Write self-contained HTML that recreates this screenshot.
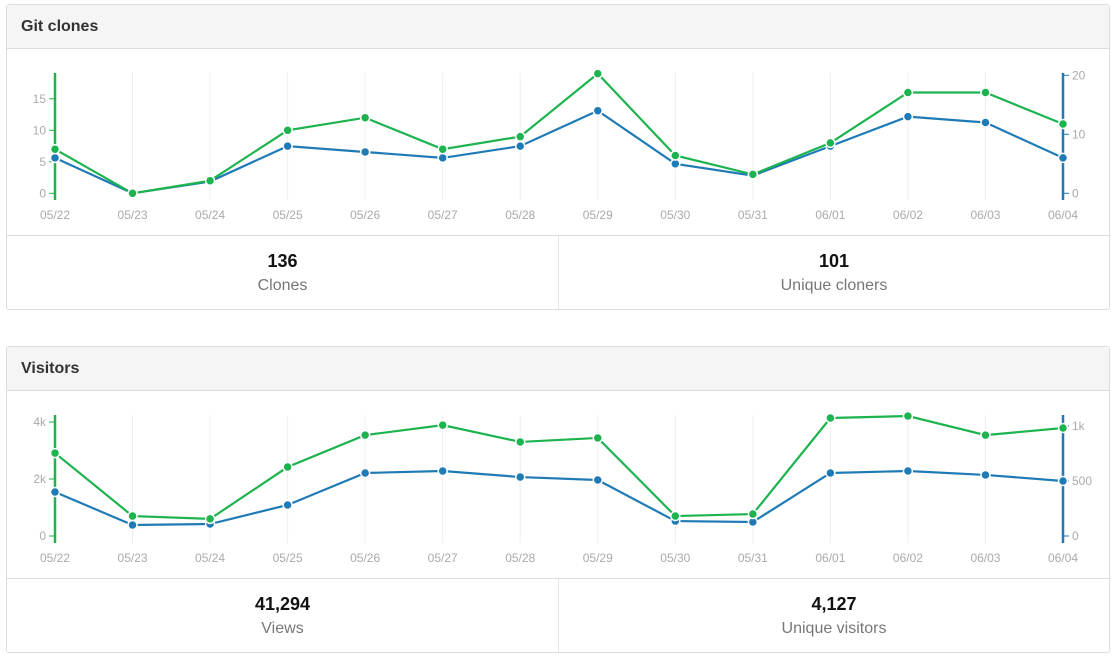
<!DOCTYPE html>
<html><head><meta charset="utf-8">
<style>
body{margin:0;background:#fff;font-family:"Liberation Sans",Arial,sans-serif;width:1117px;height:658px;position:relative;overflow:hidden}
.panel{position:absolute;left:6px;width:1102px;border:1px solid #ddd;border-radius:3px;background:#fff}
.hdr{height:43px;background:#f5f5f5;border-bottom:1px solid #ddd;font-weight:bold;font-size:16px;color:#333;line-height:43px;padding-left:14px}
.stats{position:absolute;left:0;right:0;bottom:0;height:73px;border-top:1px solid #ddd}
.stat{position:absolute;top:0;height:73px;text-align:center}
.num{font-size:18px;font-weight:bold;color:#111;margin-top:15px}
.lbl{font-size:16px;color:#777;margin-top:5px}
svg{position:absolute;left:0;top:0}
text{font-family:"Liberation Sans",Arial,sans-serif;font-size:12px;fill:#aaa}
</style></head><body>
<div class="panel" style="top:4px;height:304px">
  <div class="hdr">Git clones</div>
  <div class="stats">
    <div class="stat" style="left:0;width:551px;border-right:1px solid #e5e5e5"><div class="num">136</div><div class="lbl">Clones</div></div>
    <div class="stat" style="left:552px;width:550px"><div class="num">101</div><div class="lbl">Unique cloners</div></div>
  </div>
</div>
<div class="panel" style="top:346px;height:305px">
  <div class="hdr">Visitors</div>
  <div class="stats">
    <div class="stat" style="left:0;width:551px;border-right:1px solid #e5e5e5"><div class="num">41,294</div><div class="lbl">Views</div></div>
    <div class="stat" style="left:552px;width:550px"><div class="num">4,127</div><div class="lbl">Unique visitors</div></div>
  </div>
</div>
<svg id="svg" width="1117" height="658"></svg>
<script>
const dates=["05/22","05/23","05/24","05/25","05/26","05/27","05/28","05/29","05/30","05/31","06/01","06/02","06/03","06/04"];
const clones=[7,0,2,10,12,7,9,19,6,3,8,16,16,11];
const uniqueCloners=[6,0,2,8,7,6,8,14,5,3,8,13,12,6];
const views=[2910,700,600,2420,3540,3890,3300,3440,700,770,4140,4210,3540,3790];
const uniqueVisitors=[400,100,109,282,573,591,536,509,136,127,573,591,555,500];
const clonesLeftTicks=[0,5,10,15];
const clonesRightTicks=[0,10,20];
const viewsLeftTicks=[0,2000,4000];
const viewsLeftLabels=["0","2k","4k"];
const viewsRightTicks=[0,500,1000];
const viewsRightLabels=["0","500","1k"];

const NS="http://www.w3.org/2000/svg";
const svg=document.getElementById('svg');
function mk(t,a){const e=document.createElementNS(NS,t);for(const k in a)e.setAttribute(k,a[k]);svg.appendChild(e);return e;}
const X0=55,X1=1063;
const xs=i=>X0+i*(X1-X0)/(dates.length-1);
const G="#1db34f",B="#1f7bb6";

function chart(c){
  const yl=v=>c.zero-v*c.lk, yr=v=>c.zero-v*c.rk;
  dates.forEach((d,i)=>{
    if(i>0&&i<dates.length-1){const g=mk('line',{x1:xs(i),x2:xs(i),y1:c.top,y2:c.bot,stroke:'#eee','stroke-width':1});
    }
    const t=mk('text',{x:xs(i),y:c.bot+19,'text-anchor':'middle'});t.textContent=d;
    
  });
  const la=mk('line',{x1:X0,x2:X0,y1:c.top,y2:c.bot,stroke:G,'stroke-width':2.5});
  
  const ra=mk('line',{x1:X1,x2:X1,y1:c.top,y2:c.bot,stroke:B,'stroke-width':2.5});
  
  c.lt.forEach((v,i)=>{const y=yl(v);mk('line',{x1:X0-6,x2:X0,y1:y,y2:y,stroke:G,'stroke-width':1});
    const t=mk('text',{x:X0-9,y:y+4,'text-anchor':'end'});t.textContent=c.ll[i];
    });
  c.rt.forEach((v,i)=>{const y=yr(v);mk('line',{x1:X1,x2:X1+6,y1:y,y2:y,stroke:B,'stroke-width':1});
    const t=mk('text',{x:X1+9,y:y+4,'text-anchor':'start'});t.textContent=c.rl[i];
    });
  [[c.b,yr,B,c.bn],[c.g,yl,G,c.gn]].forEach(([vals,f,col,name])=>{
    const p=mk('polyline',{points:vals.map((v,i)=>xs(i)+','+f(v)).join(' '),fill:'none',stroke:col,'stroke-width':2.2});
    
    vals.forEach((v,i)=>{const ci=mk('circle',{cx:xs(i),cy:f(v),r:4.5,fill:col,stroke:'#fff','stroke-width':1.5});
      });
  });
}
chart({top:73,bot:200,zero:193.3,lk:6.3,rk:5.9,lt:clonesLeftTicks,ll:clonesLeftTicks.map(String),rt:clonesRightTicks,rl:clonesRightTicks.map(String),g:clones,b:uniqueCloners,gn:'clones',bn:'unique-cloners'});
chart({top:415,bot:543,zero:536,lk:0.0285,rk:0.11,lt:viewsLeftTicks,ll:viewsLeftLabels,rt:viewsRightTicks,rl:viewsRightLabels,g:views,b:uniqueVisitors,gn:'views',bn:'unique-visitors'});
</script>
</body></html>
